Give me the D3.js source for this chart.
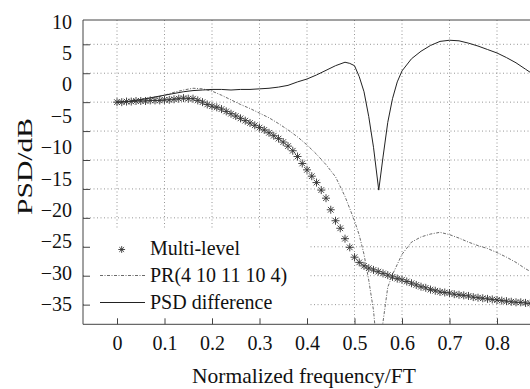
<!DOCTYPE html>
<html>
<head>
<meta charset="utf-8">
<script src="https://cdn.jsdelivr.net/npm/d3@7"></script>
<style>
  body { margin: 0; background: #fff; }
  text { font-family: "Liberation Serif", "Times New Roman", serif; fill: #111; }
</style>
</head>
<body>
<div id="chart"></div>
<script>
// x ticks / y ticks
var xTicks = [0, 0.1, 0.2, 0.3, 0.4, 0.5, 0.6, 0.7, 0.8];
var yTicks = [10, 5, 0, -5, -10, -15, -20, -25, -30, -35];

// Multi-level (star markers), one point every 0.01
var mlFreq = d3.range(0, 89).map(function(i) { return i / 100; });
var mlPsd = [
   0.0,  0.0,  0.1,  0.1,  0.2,  0.2,  0.2,  0.3,  0.3,  0.3,
   0.4,  0.4,  0.5,  0.6,  0.7,  0.6,  0.6,  0.3,  0.0, -0.4,
  -0.7, -0.9, -1.2, -1.6, -2.0, -2.4, -2.8, -3.2, -3.6, -4.0,
  -4.4, -4.8, -5.3, -5.8, -6.3, -6.9, -7.6, -8.4, -9.4, -10.6,
 -11.7, -12.8, -13.9, -15.2, -16.6, -18.6, -20.5, -21.8, -23.6, -25.1,
 -26.8, -27.7, -28.3, -28.7, -29.0, -29.3, -29.6, -29.9, -30.2, -30.5,
 -30.7, -31.0, -31.3, -31.6, -31.9, -32.1, -32.4, -32.6, -32.8, -32.9,
 -33.0, -33.2, -33.3, -33.4, -33.5, -33.7, -33.8, -33.9, -34.0, -34.1,
 -34.2, -34.3, -34.4, -34.5, -34.6, -34.6, -34.7, -34.8, -34.9
];

// PR(4 10 11 10 4), dash-dot line
var prFreq = [0, 0.02, 0.04, 0.06, 0.08, 0.10, 0.12, 0.14, 0.16, 0.18, 0.20, 0.22, 0.24, 0.26, 0.28,
  0.30, 0.32, 0.34, 0.36, 0.38, 0.40, 0.42, 0.44, 0.46, 0.48, 0.50, 0.51, 0.52, 0.53, 0.54, 0.55,
  0.56, 0.57, 0.58, 0.60, 0.62, 0.64, 0.66, 0.68, 0.70, 0.72, 0.74, 0.76, 0.78, 0.80, 0.82, 0.84, 0.86, 0.88];
var prPsd = [0.0, 0.1, 0.3, 0.5, 0.8, 1.2, 1.7, 2.1, 2.4, 2.3, 1.9, 1.2, 0.4, -0.4, -1.1,
  -1.9, -2.7, -3.7, -4.8, -6.0, -7.4, -9.0, -10.8, -12.9, -16.3, -20.5, -23.0, -26.3, -30.8, -36.0, -45.0,
  -38.0, -32.0, -29.8, -26.3, -24.2, -23.3, -22.8, -22.5, -22.9, -23.5, -24.2, -24.8, -25.3, -26.0, -26.8, -27.7, -28.8, -29.7];

// PSD difference, solid line
var diffFreq = [0, 0.02, 0.04, 0.06, 0.08, 0.10, 0.12, 0.14, 0.16, 0.18, 0.20, 0.22, 0.24, 0.26, 0.28,
  0.30, 0.32, 0.34, 0.36, 0.38, 0.40, 0.42, 0.44, 0.46, 0.48, 0.49, 0.50, 0.51, 0.52, 0.53, 0.54, 0.551,
  0.56, 0.57, 0.58, 0.59, 0.60, 0.62, 0.64, 0.66, 0.68, 0.70, 0.72, 0.74, 0.76, 0.78, 0.80, 0.82, 0.84, 0.86, 0.88];
var diffPsd = [0.0, 0.1, 0.3, 0.6, 0.9, 1.2, 1.5, 1.8, 2.0, 2.1, 2.2, 2.2, 2.1, 2.2, 2.2,
  2.3, 2.4, 2.6, 2.9, 3.5, 4.0, 4.7, 5.5, 6.3, 6.9, 6.7, 6.3, 4.4, 1.8, -2.5, -7.8, -15.2,
  -9.5, -3.5, 0.6, 3.5, 5.4, 7.5, 8.8, 9.8, 10.5, 10.7, 10.6, 10.2, 9.7, 9.1, 8.5, 7.7, 6.8, 5.7, 4.6];

chart('#chart');

function chart(id) {
	var width = 530, height = 389;
	var plot = { left: 83, top: 20, bottom: 324.3 };

	var svg = d3.select(id).append("svg")
		.attr("width", width)
		.attr("height", height);

	var x = d3.scaleLinear().domain([-0.0716, 1.0]).range([plot.left, plot.left + 1.0716 * 475]);
	var y = d3.scaleLinear().domain([-38.4, 14.2]).range([plot.bottom, plot.top]);
	// printed tick labels sit on a slightly different spacing than the grid
	var yLabel = d3.scaleLinear().domain([-35, 10]).range([304.3, 21.7]);
	var fmt = d3.format("~g");

	svg.append("defs").append("clipPath").attr("id", "clip")
		.append("rect")
		.attr("x", plot.left).attr("y", plot.top)
		.attr("width", width - plot.left).attr("height", plot.bottom - plot.top);

	// grid
	var grid = svg.append("g").attr("class", "grid");
	grid.selectAll("line.h").data(yTicks).join("line")
		.attr("class", "h")
		.attr("x1", plot.left).attr("x2", width)
		.attr("y1", function(d) { return y(d); }).attr("y2", function(d) { return y(d); });
	grid.selectAll("line.v").data(xTicks).join("line")
		.attr("class", "v")
		.attr("x1", function(d) { return x(d); }).attr("x2", function(d) { return x(d); })
		.attr("y1", plot.top).attr("y2", plot.bottom);
	grid.selectAll("line")
		.attr("stroke", "#8a8a8a")
		.attr("stroke-width", 0.9)
		.attr("stroke-dasharray", "1,2.5");

	var curves = svg.append("g").attr("clip-path", "url(#clip)");

	var line = d3.line()
		.x(function(d) { return x(d[0]); })
		.y(function(d) { return y(d[1]); });

	// PR curve
	curves.append("path")
		.datum(d3.zip(prFreq, prPsd))
		.attr("d", line)
		.attr("fill", "none")
		.attr("stroke", "#444")
		.attr("stroke-width", 0.8)
		.attr("stroke-dasharray", "3,1.5,1,1.5");

	// PSD difference
	curves.append("path")
		.datum(d3.zip(diffFreq, diffPsd))
		.attr("d", line)
		.attr("fill", "none")
		.attr("stroke", "#222")
		.attr("stroke-width", 1);

	// Multi-level stars
	curves.selectAll("path.star").data(d3.zip(mlFreq, mlPsd)).join("path")
		.attr("class", "star")
		.attr("transform", function(d) { return "translate(" + x(d[0]) + "," + y(d[1]) + ")"; })
		.attr("d", starPath(4))
		.attr("fill", "none")
		.attr("stroke", "#333")
		.attr("stroke-width", 0.9);

	// Legend
	var lg = svg.append("g");
	lg.append("rect")
		.attr("x", 86).attr("y", 230)
		.attr("width", 223).attr("height", 92)
		.attr("fill", "#fff");

	var rows = [248.5, 275.5, 302.5];
	lg.append("path")
		.attr("transform", "translate(121.7," + (rows[0] + 1) + ")")
		.attr("d", starPath(3.4))
		.attr("fill", "none").attr("stroke", "#333").attr("stroke-width", 0.9);
	lg.append("line")
		.attr("x1", 100).attr("x2", 145).attr("y1", rows[1]).attr("y2", rows[1])
		.attr("stroke", "#444").attr("stroke-width", 0.8)
		.attr("stroke-dasharray", "3,1.5,1,1.5");
	lg.append("line")
		.attr("x1", 100).attr("x2", 145).attr("y1", rows[2]).attr("y2", rows[2])
		.attr("stroke", "#222").attr("stroke-width", 1);

	lg.selectAll("text").data(["Multi-level", "PR(4 10 11 10 4)", "PSD difference"]).join("text")
		.attr("x", 150)
		.attr("y", function(d, i) { return rows[i]; })
		.attr("dy", "0.33em")
		.style("font-size", "20px")
		.text(function(d) { return d; });

	// Axes: ticks inward
	var xAxis = svg.append("g")
		.attr("transform", "translate(0," + plot.bottom + ")")
		.call(d3.axisBottom(x).tickValues(xTicks).tickFormat(fmt).tickSize(-6).tickSizeOuter(0).tickPadding(12));
	xAxis.select(".domain").remove();
	xAxis.selectAll("line").attr("stroke", "#444");
	xAxis.selectAll("text").style("font-size", "20px").attr("fill", "#111");

	var yAxis = svg.append("g")
		.attr("transform", "translate(" + plot.left + ",0)")
		.call(d3.axisRight(y).tickValues(yTicks).tickFormat("").tickSize(7).tickSizeOuter(0));
	yAxis.select(".domain").remove();
	yAxis.selectAll("line").attr("stroke", "#444");

	var yLab = svg.append("g")
		.attr("transform", "translate(" + plot.left + ",0)")
		.call(d3.axisLeft(yLabel).tickValues(yTicks).tickFormat(fmt).tickSize(0).tickPadding(11));
	yLab.select(".domain").remove();
	yLab.selectAll("text").style("font-size", "20px").attr("fill", "#111");

	// borders (left, top, bottom)
	svg.append("path")
		.attr("d", "M" + width + "," + plot.top + "H" + plot.left + "V" + plot.bottom + "H" + width)
		.attr("fill", "none")
		.attr("stroke", "#444")
		.attr("stroke-width", 1);

	// axis titles
	svg.append("text")
		.attr("x", 304).attr("y", 383.3)
		.attr("text-anchor", "middle")
		.style("font-size", "21.5px")
		.text("Normalized frequency/FT");

	svg.append("text")
		.attr("transform", "translate(32,166.5) rotate(-90)")
		.attr("text-anchor", "middle")
		.attr("textLength", 97)
		.attr("lengthAdjust", "spacingAndGlyphs")
		.style("font-size", "21.5px")
		.text("PSD/dB");
}

// matlab style '*' marker
function starPath(r) {
	var d = r * Math.SQRT1_2;
	return "M" + (-r) + ",0H" + r +
		"M0," + (-r) + "V" + r +
		"M" + (-d) + "," + (-d) + "L" + d + "," + d +
		"M" + (-d) + "," + d + "L" + d + "," + (-d);
}
</script>
</body>
</html>
